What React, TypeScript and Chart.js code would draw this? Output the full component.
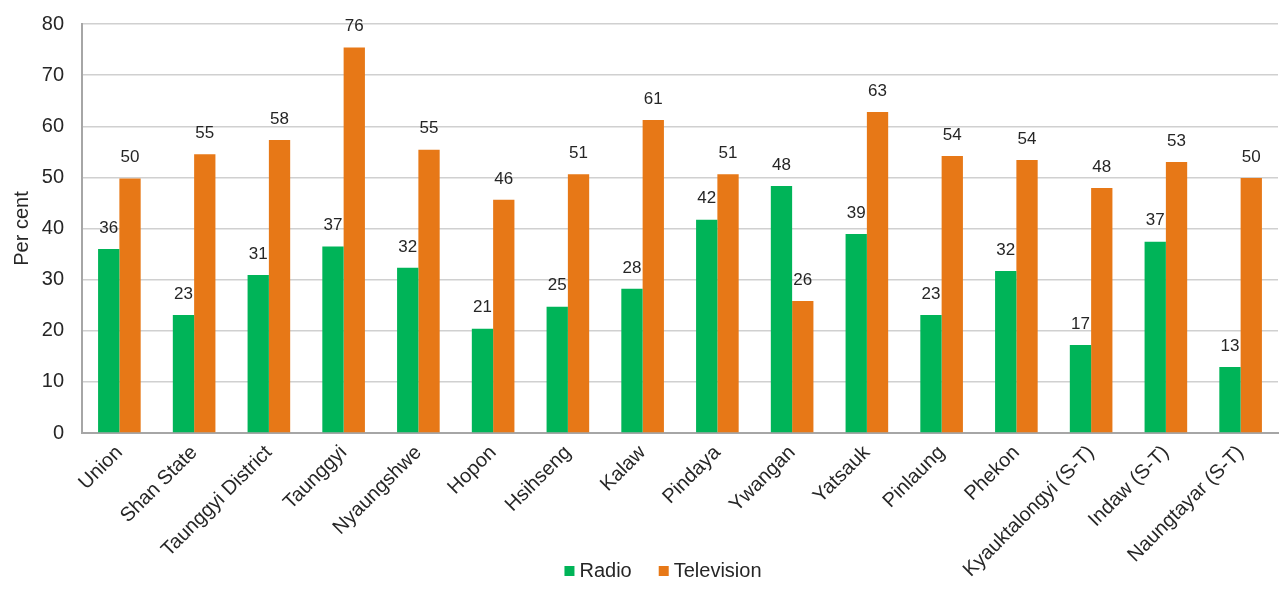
import React, { useEffect, useRef } from "react";
import { Chart, registerables } from "chart.js";

Chart.register(...registerables);

const categories = [
  "Union", "Shan State", "Taunggyi District", "Taunggyi", "Nyaungshwe", "Hopon",
  "Hsihseng", "Kalaw", "Pindaya", "Ywangan", "Yatsauk", "Pinlaung", "Phekon",
  "Kyauktalongyi (S-T)", "Indaw (S-T)", "Naungtayar (S-T)",
];
const radio = [36.0, 23.1, 30.9, 36.5, 32.3, 20.4, 24.7, 28.2, 41.7, 48.3, 38.9, 23.1, 31.7, 17.2, 37.4, 12.9];
const television = [49.8, 54.5, 57.3, 75.4, 55.4, 45.6, 50.6, 61.2, 50.6, 25.8, 62.8, 54.2, 53.4, 47.9, 53.0, 49.9];
const radioLabels = ["36", "23", "31", "37", "32", "21", "25", "28", "42", "48", "39", "23", "32", "17", "37", "13"];
const tvLabels = ["50", "55", "58", "76", "55", "46", "51", "61", "51", "26", "63", "54", "54", "48", "53", "50"];
const seriesNames = ["Radio", "Television"];
const seriesColors = ["#00B458", "#E77817"];
const yTicks = [0, 10, 20, 30, 40, 50, 60, 70, 80];

const FONT = "'Liberation Sans', Arial, sans-serif";
const TEXT = "#262626";

const dataLabelPlugin = {
  id: "dataLabels",
  afterDatasetsDraw(chart: any) {
    const ctx = chart.ctx;
    const labelSets = [radioLabels, tvLabels];
    ctx.save();
    ctx.font = `17px ${FONT}`;
    ctx.fillStyle = TEXT;
    ctx.textAlign = "center";
    ctx.textBaseline = "middle";
    chart.data.datasets.forEach((ds: any, i: number) => {
      const meta = chart.getDatasetMeta(i);
      meta.data.forEach((el: any, j: number) => {
        ctx.fillText(labelSets[i][j], el.x, el.y - 21);
      });
    });
    ctx.restore();
  },
};

const bottomLegendPlugin = {
  id: "bottomLegend",
  afterDraw(chart: any) {
    const ctx = chart.ctx;
    ctx.save();
    ctx.font = `20px ${FONT}`;
    ctx.textBaseline = "middle";
    ctx.textAlign = "left";
    const boxSize = 10;
    const gap = 5;
    const spacing = 27;
    const widths = seriesNames.map((n) => boxSize + gap + ctx.measureText(n).width);
    const total = widths.reduce((a, b) => a + b, 0) + spacing * (seriesNames.length - 1);
    let x = chart.width / 2 + 23 - total / 2;
    const y = 571;
    seriesNames.forEach((name, i) => {
      ctx.fillStyle = seriesColors[i];
      ctx.fillRect(x, y - boxSize / 2, boxSize, boxSize);
      ctx.fillStyle = TEXT;
      ctx.fillText(name, x + boxSize + gap, y);
      x += widths[i] + spacing;
    });
    ctx.restore();
  },
};

export default function App() {
  const ref = useRef<HTMLCanvasElement | null>(null);
  useEffect(() => {
    document.body.style.margin = "0";
    const chart = new Chart(ref.current as HTMLCanvasElement, {
      type: "bar",
      data: {
        labels: categories,
        datasets: [
          { label: seriesNames[0], data: radio, backgroundColor: seriesColors[0], categoryPercentage: 0.57, barPercentage: 1 },
          { label: seriesNames[1], data: television, backgroundColor: seriesColors[1], categoryPercentage: 0.57, barPercentage: 1 },
        ],
      },
      options: {
        animation: false,
        responsive: false,
        maintainAspectRatio: false,
        layout: { padding: { left: 0, right: 2, top: 24, bottom: 0 } },
        plugins: {
          legend: { display: false },
          tooltip: { enabled: false },
        },
        scales: {
          x: {
            grid: { display: false, drawTicks: false },
            border: { display: true, color: "#a6a6a6", width: 2 },
            afterFit(scale: any) {
              scale.height = 175;
            },
            ticks: {
              minRotation: 45,
              maxRotation: 45,
              padding: 8,
              color: TEXT,
              font: { size: 20, family: FONT },
            },
          },
          y: {
            min: 0,
            max: 80,
            afterBuildTicks(scale: any) {
              scale.ticks = yTicks.map((v) => ({ value: v }));
            },
            afterFit(scale: any) {
              scale.width = 82;
              scale.paddingTop = 0;
              scale.paddingBottom = 0;
            },
            grid: { color: "#d0d0d0", lineWidth: 1.5, drawTicks: false },
            border: { display: true, color: "#a6a6a6", width: 2 },
            ticks: {
              padding: 18,
              color: TEXT,
              font: { size: 20, family: FONT },
            },
            title: {
              display: true,
              text: "Per cent",
              color: TEXT,
              font: { size: 20, family: FONT },
              padding: { top: 10, bottom: 0 },
            },
          },
        },
      },
      plugins: [dataLabelPlugin, bottomLegendPlugin],
    } as any);
    return () => chart.destroy();
  }, []);
  return (
    <div style={{ position: "absolute", left: 0, top: 0, width: 1280, height: 608 }}>
      <canvas ref={ref} width={1280} height={608} style={{ width: 1280, height: 608 }} />
    </div>
  );
}
